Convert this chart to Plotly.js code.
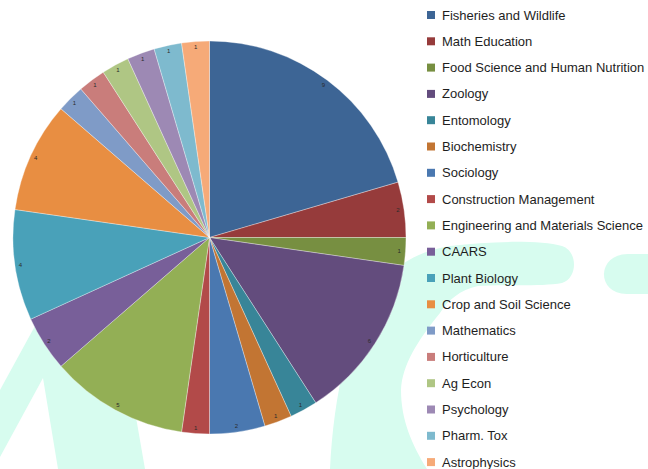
<!DOCTYPE html>
<html>
<head>
<meta charset="utf-8">
<script src="https://cdn.plot.ly/plotly-3.0.1.min.js"></script>
<style>
  html, body { margin: 0; padding: 0; background: #ffffff; }
  #wrap { position: relative; width: 648px; height: 469px; overflow: hidden; }
  #bg { position: absolute; left: 0; top: 0; }
  #chart { position: absolute; left: 0; top: 0; width: 648px; height: 469px; }
</style>
</head>
<body>
<div id="wrap">
  <svg id="bg" width="648" height="469" viewBox="0 0 648 469">
    <g fill="#d7fcef">
      <path d="M0,390 L82,240 L105,240 L137,423 L145,469 L58,469 L43,378 L0,457 Z"/>
      <path d="M330,469 C332,430 336,400 345,360 C360,300 390,255 450,246 C490,241 540,240 562,246 C578,251 578,278 562,283 C540,287 500,284 478,286 C460,290 448,300 440,313 C418,340 402,365 401,390 C401,420 412,445 427,469 Z"/>
      <path d="M648,254 L628,254 C596,254 596,295 628,294 L648,294 Z"/>
    </g>
  </svg>
  <div id="chart"></div>
</div>
<script>
const categories = [
  "Fisheries and Wildlife", "Math Education", "Food Science and Human Nutrition",
  "Zoology", "Entomology", "Biochemistry", "Sociology", "Construction Management",
  "Engineering and Materials Science", "CAARS", "Plant Biology", "Crop and Soil Science",
  "Mathematics", "Horticulture", "Ag Econ", "Psychology", "Pharm. Tox", "Astrophysics"
];
const values = [9, 2, 1, 6, 1, 1, 2, 1, 5, 2, 4, 4, 1, 1, 1, 1, 1, 1];
const colors = [
  "#3d6595", "#963b3b", "#778f41", "#634c7d", "#388598", "#c27533",
  "#4a78b0", "#b24a49", "#93af55", "#785f99", "#49a1b9", "#e88e42",
  "#7f9bc7", "#c97d7b", "#afc684", "#9d89b4", "#7ebace", "#f6aa78"
];

const W = 648, H = 469;
const cx = 209.5, cy = 237.5, r = 196.5;
const dom = { x: [(cx - r) / W, (cx + r) / W], y: [1 - (cy + r) / H, 1 - (cy - r) / H] };

// filled slices
const pie = {
  type: "pie",
  labels: categories,
  values: values,
  sort: false,
  direction: "clockwise",
  rotation: 0,
  marker: { colors: colors, line: { color: "rgba(255,255,255,0.55)", width: 0.6 } },
  textinfo: "none",
  showlegend: false,
  domain: dom
};

// transparent thin ring carrying the value labels near the outer edge
const labelRing = {
  type: "pie",
  labels: categories,
  values: values,
  sort: false,
  direction: "clockwise",
  rotation: 0,
  hole: 0.94,
  marker: { colors: categories.map(() => "rgba(0,0,0,0)"), line: { width: 0 } },
  textinfo: "value",
  textposition: "inside",
  insidetextorientation: "horizontal",
  textfont: { family: "Liberation Sans, Arial, sans-serif", size: 6, color: "#2b2b2b" },
  showlegend: false,
  domain: dom
};

// manual legend (Excel-style spacing)
const legX0 = 427, legSq = 8, legTextX = 440, legY0 = 15, legStep = 26.3;
const shapes = [], annotations = [];
categories.forEach((c, i) => {
  const yc = legY0 + legStep * i;
  shapes.push({
    type: "rect", xref: "paper", yref: "paper",
    x0: legX0 / W, x1: (legX0 + legSq) / W,
    y0: 1 - (yc + legSq / 2) / H, y1: 1 - (yc - legSq / 2) / H,
    fillcolor: colors[i], line: { width: 0 }
  });
  annotations.push({
    xref: "paper", yref: "paper", x: legTextX / W, y: 1 - yc / H,
    xanchor: "left", yanchor: "middle", showarrow: false, text: c,
    font: { family: "Liberation Sans, Arial, sans-serif", size: 13, color: "#1e1e1e" }
  });
});

const layout = {
  width: W, height: H,
  margin: { l: 0, r: 0, t: 0, b: 0 },
  paper_bgcolor: "rgba(0,0,0,0)",
  plot_bgcolor: "rgba(0,0,0,0)",
  showlegend: false,
  shapes: shapes,
  annotations: annotations
};

Plotly.newPlot("chart", [pie, labelRing], layout, { displayModeBar: false, staticPlot: true });
</script>
</body>
</html>
